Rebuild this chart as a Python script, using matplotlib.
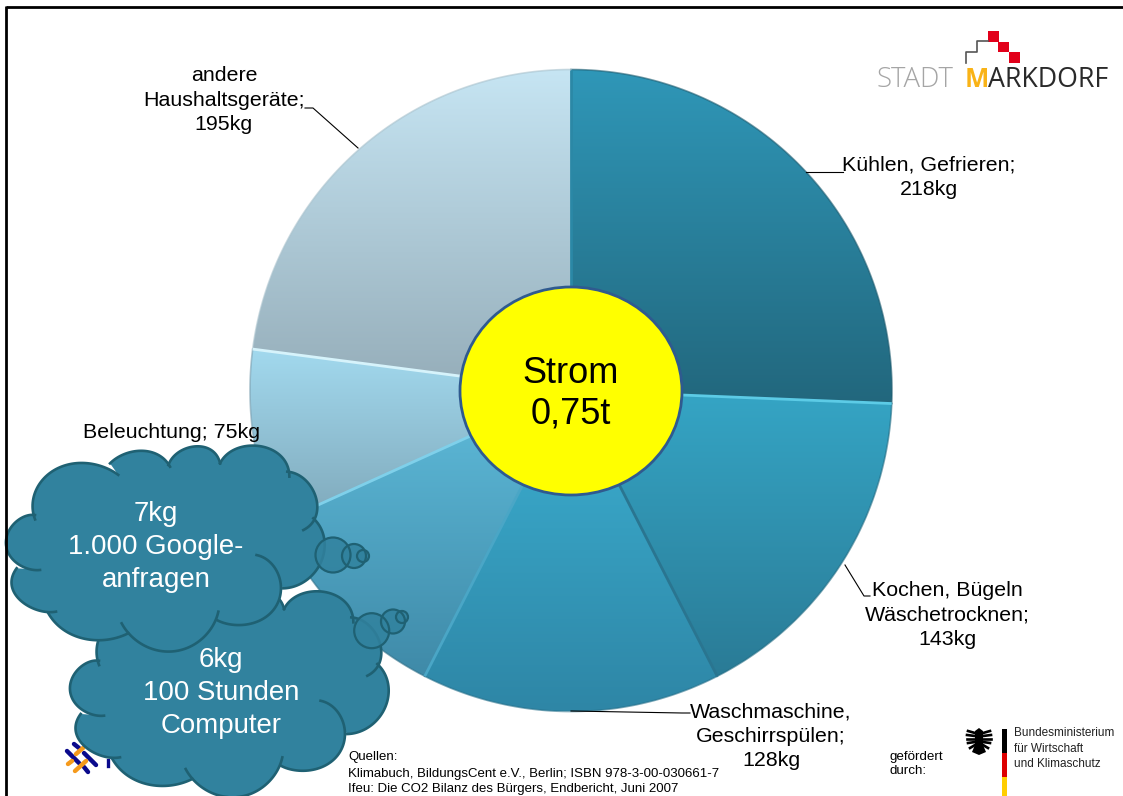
import numpy as np
import matplotlib
matplotlib.use("Agg")
import matplotlib.pyplot as plt
from matplotlib.patches import Circle, Ellipse, Rectangle, Polygon

plt.rcParams["font.family"] = ["Liberation Sans", "DejaVu Sans"]

# pie data, clockwise from the top. the 4th slice has no label, it sits behind the clouds
values = [218, 143, 128, 91, 75, 195]
slice_top = ["#2f97b8", "#35a5c5", "#3cb0d2", "#5fbcdb", "#a2d9ee", "#c6e5f3"]
slice_bottom = ["#22677d", "#2a7b96", "#2e86a6", "#3f8aa8", "#7fa8ba", "#95adb9"]
edge_light = ["#2b88a6", "#5ccbe6", "#2a7590", "#4aa6c6", "#7fd0ea", "#d6f3fb"]
rim_color = ["#1c5a6e", "#1f6a82", "#246f8a", "#2f6f88", "#7a9fb0", "#a9c2cd"]

label_text = ["Kühlen, Gefrieren;\n218kg", "Kochen, Bügeln\nWäschetrocknen;\n143kg",
              "Waschmaschine,\nGeschirrspülen;\n128kg", "Beleuchtung; 75kg",
              "andere\nHaushaltsgeräte;\n195kg"]
label_x = [929, 947, 771, 172, 224]
label_y = [177, 615, 736, 432, 100]
leader_x = [[806, 836, 843], [845, 864, 870], [571, 682, 690], [358, 313, 305]]
leader_y = [[172, 172, 172], [565, 596, 596], [711, 713, 713], [148, 108, 108]]

center_text = "Strom\n0,75t"
cloud_text = ["7kg\n1.000 Google-\nanfragen", "6kg\n100 Stunden\nComputer"]
source_text = ["Quellen:", "Klimabuch, BildungsCent e.V., Berlin; ISBN 978-3-00-030661-7",
               "Ifeu: Die CO2 Bilanz des Bürgers, Endbericht, Juni 2007"]

lobes = [
    [(105, 298), (100, 240), (130, 175), (245, 130), (310, 140), (355, 165)],
    [(330, 130), (375, 102), (430, 92), (480, 108), (510, 140)],
    [(505, 135), (540, 95), (590, 78), (640, 95), (660, 130)],
    [(660, 130), (700, 90), (770, 78), (840, 105), (868, 170)],
    [(862, 155), (925, 190), (952, 255), (945, 295), (910, 330)],
    [(940, 295), (970, 345), (972, 400), (945, 455), (905, 490), (850, 505)],
    [(770, 405), (820, 440), (845, 505), (820, 570), (770, 605), (715, 615), (650, 600)],
    [(655, 575), (630, 630), (570, 680), (505, 695), (430, 675), (365, 610)],
    [(385, 640), (330, 657), (270, 660), (200, 635), (145, 580)],
    [(168, 575), (100, 565), (50, 530), (35, 495), (50, 445)],
    [(120, 450), (60, 435), (22, 395), (22, 345), (55, 300), (105, 285)],
]
CLOUD = "#31829e"
CLOUD_EDGE = "#1f6173"

fig = plt.figure(figsize=(11.23, 7.96), dpi=100)
ax = fig.add_axes([0, 0, 1, 1])

cx, cy, rad = 571, 390.5, 321
wedges, _ = ax.pie(values, startangle=270, counterclock=True, center=(cx, cy), radius=rad,
                   wedgeprops={"facecolor": "none", "edgecolor": "none"})

for i, w in enumerate(wedges):
    box = w.get_path().get_extents()
    t = np.linspace(0, 1, 256)[:, None, None]
    c0 = np.array(matplotlib.colors.to_rgb(slice_top[i]))[None, None, :]
    c1 = np.array(matplotlib.colors.to_rgb(slice_bottom[i]))[None, None, :]
    im = ax.imshow(c0 * (1 - t) + c1 * t, extent=[box.x0, box.x1, box.y1, box.y0],
                   origin="upper", aspect="auto", zorder=1)
    im.set_clip_path(w)

for i, w in enumerate(wedges):
    ang = np.radians(np.linspace(w.theta1, w.theta2, 100))
    ax.plot(cx + rad * np.cos(ang), cy + rad * np.sin(ang), color=rim_color[i], lw=1.2,
            alpha=0.6, zorder=2)
    a = np.radians(w.theta1)
    ax.plot([cx, cx + rad * np.cos(a)], [cy, cy + rad * np.sin(a)], color=edge_light[i],
            lw=2, zorder=2.5, solid_capstyle="butt")

for lx, ly in zip(leader_x, leader_y):
    ax.plot(lx, ly, color="black", lw=0.8, zorder=3)

for s, x, y in zip(label_text, label_x, label_y):
    ax.text(x, y, s, ha="center", va="center", fontsize=15.4, linespacing=1.35, zorder=4)

ax.add_patch(Ellipse((cx, 391), 222, 208, facecolor="#ffff00", edgecolor="#2f5a8f", lw=2, zorder=5))
ax.text(cx, 394, center_text, ha="center", va="center", fontsize=26, linespacing=1.21, zorder=6)


def lobe_curve(pts):
    # low degree fit through the crop points, keeps the lobes round
    p = np.array(pts, dtype=float) / 3
    u = np.r_[0, np.cumsum(np.hypot(*np.diff(p, axis=0).T))]
    u = u / u[-1]
    deg = min(4, len(p) - 2)
    t = np.linspace(0, 1, 60)
    return np.column_stack([np.polyval(np.polyfit(u, p[:, 0], deg), t),
                            np.polyval(np.polyfit(u, p[:, 1], deg), t)])


def draw_cloud(dx, dy, tail, text_xy, text, z):
    curves = [lobe_curve(lobe) + [dx, dy] for lobe in lobes]
    ax.add_patch(Polygon(np.vstack(curves), facecolor=CLOUD, edgecolor="none", zorder=z))
    for c in curves:
        ax.plot(c[:, 0], c[:, 1], color=CLOUD_EDGE, lw=1.9, zorder=z + 0.1)
    for x, y, r in tail:
        ax.add_patch(Circle((x, y), r, facecolor=CLOUD, edgecolor="none", alpha=0.85, zorder=z + 0.2))
    for x, y, r in tail:
        ax.add_patch(Circle((x, y), r, facecolor="none", edgecolor=CLOUD_EDGE, lw=1.6, zorder=z + 0.3))
    ax.text(text_xy[0], text_xy[1], text, color="white", ha="center", va="center",
            fontsize=19.9, linespacing=1.37, zorder=z + 0.4)


draw_cloud(64, 145.7 + 420, [(371.7, 630.7, 17.5), (393, 621.5, 12), (402, 617, 6)],
           (221, 693), cloud_text[1], 7)
draw_cloud(0, 420, [(333, 555, 17.5), (354, 556, 12), (363, 556, 6)],
           (156, 547), cloud_text[0], 8)

# footer texts
for s, y in zip(source_text, [757, 774, 789]):
    ax.text(348, y, s, fontsize=9.55, va="center", ha="left", zorder=9)
ax.text(889, 764, "gefördert\ndurch:", fontsize=9.6, va="center", ha="left", linespacing=1.3)

# left logo, mostly hidden by the lower cloud
for x0, y0, x1, y1 in [(67, 751, 79, 763), (74, 744, 79, 748), (84, 753, 96, 765), (84, 767, 88, 772)]:
    ax.plot([x0, x1], [y0, y1], color="#0a0a8c", lw=3.2, solid_capstyle="round", zorder=1)
for x0, y0, x1, y1 in [(68, 764, 72, 761), (76, 754, 83, 748), (75, 771, 86, 761)]:
    ax.plot([x0, x1], [y0, y1], color="#f59a1c", lw=3.2, solid_capstyle="round", zorder=1)
ax.plot([108, 108], [760, 766], color="#0a0a8c", lw=2.4, zorder=1)

# Stadt Markdorf logo
ax.plot([966, 966, 977, 977, 988], [63, 52, 52, 41, 41], color="#555555", lw=1.2)
for x, y in [(988, 31), (998, 41.5), (1009, 52)]:
    ax.add_patch(Rectangle((x, y), 10.5, 10.5, facecolor="#e2001a", edgecolor="none"))
logo_font = ["Open Sans", "DejaVu Sans"]
ax.text(877, 87, "STADT", fontsize=19.8, color="#a5a5a5", family=logo_font, fontweight="light",
        ha="left", va="baseline")
ax.text(965, 87, "M", fontsize=18.5, color="#f9b317", family=logo_font, fontweight="bold",
        ha="left", va="baseline")
ax.text(988, 87, "ARKDORF", fontsize=19.3, color="#2a2a2a", family=logo_font,
        ha="left", va="baseline")

# ministry logo
for y0, y1, c in [(729, 753, "#000000"), (753, 777, "#dd0000"), (777, 796, "#ffce00")]:
    ax.add_patch(Rectangle((1002, y0), 4.5, y1 - y0, facecolor=c, edgecolor="none"))
ax.text(1014, 748.5, "Bundesministerium\nfür Wirtschaft\nund Klimaschutz", fontsize=8.5,
        color="#222222", va="center", ha="left", linespacing=1.4)
# eagle, a rough stand-in
ax.add_patch(Polygon([(975, 731), (979, 728), (983, 731), (983, 745), (986, 752), (979, 755),
                      (972, 752), (975, 745)], facecolor="black", edgecolor="none"))
for ex0, ey0, ex1, ey1 in [(975, 733, 968, 731), (975, 736, 967, 735), (975, 739, 967, 739),
                           (975, 742, 968, 743), (975, 745, 970, 748), (983, 733, 990, 731),
                           (983, 736, 991, 735), (983, 739, 991, 739), (983, 742, 990, 743),
                           (983, 745, 988, 748)]:
    ax.plot([ex0, ex1], [ey0, ey1], color="black", lw=1.9)

# slide border, top and left only
ax.plot([6, 1123], [7, 7], color="black", lw=2, zorder=12, solid_capstyle="butt")
ax.plot([6, 6], [6, 796], color="black", lw=2, zorder=12, solid_capstyle="butt")

ax.set_xlim(0, 1123)
ax.set_ylim(796, 0)
ax.set_aspect("auto")
ax.axis("off")
fig.savefig("out.png", dpi=100)
